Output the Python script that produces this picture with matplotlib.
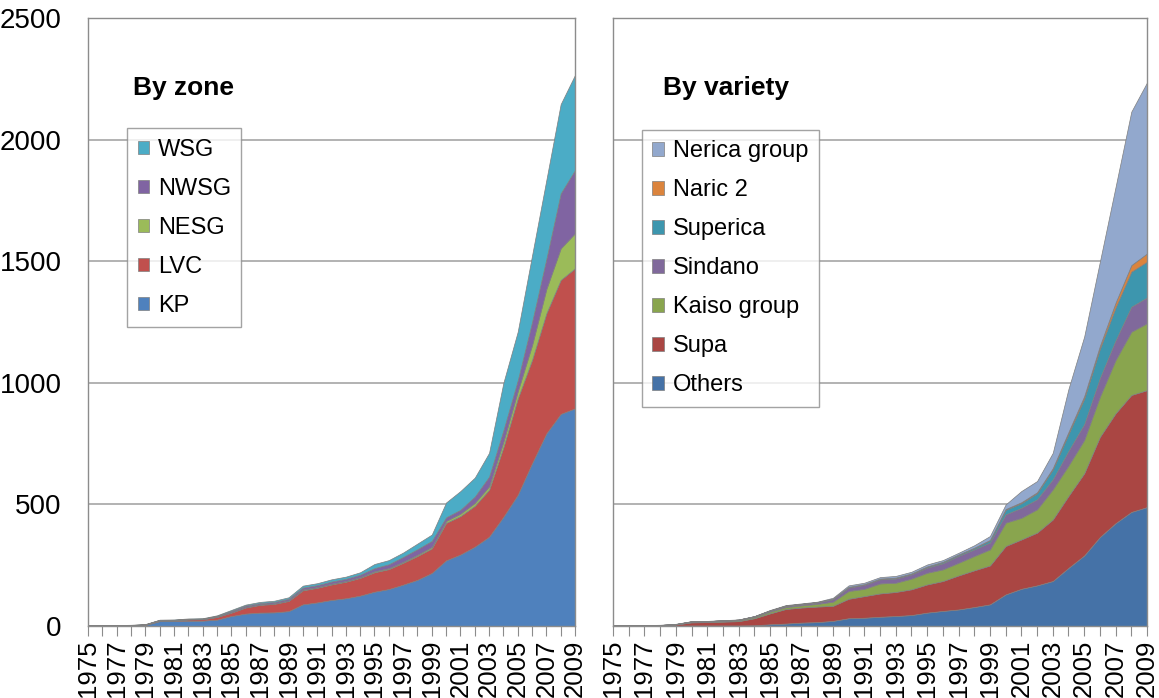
import matplotlib.pyplot as plt
import numpy as np

plt.rcParams['font.family'] = ['Liberation Sans', 'DejaVu Sans']

years = list(range(1975, 2010))

# By zone
kp = [1, 1, 2, 2, 4, 20, 20, 21, 22, 26, 41, 51, 55, 56, 61, 89, 97, 107, 114, 125,
      141, 152, 170, 190, 218, 270, 294, 326, 367, 449, 539, 669, 792, 872, 895]
lvc = [1, 1, 1, 1, 2, 3, 3, 6, 6, 11, 14, 25, 32, 35, 42, 58, 60, 64, 68, 73,
       80, 82, 90, 98, 101, 154, 158, 168, 193, 286, 396, 425, 494, 551, 576]
nesg = [0, 0, 0, 0, 0, 0.5, 0.5, 0.5, 0.5, 1, 2, 2, 2, 2, 2, 3, 3, 3, 3, 3,
        4, 4, 4, 5, 6, 8, 10, 12, 14, 23, 30, 61, 100, 130, 144]
nwsg = [0.5, 0.5, 0.5, 1, 1, 1.5, 1.5, 1.5, 1.5, 3, 5, 6, 5, 6, 7, 8, 8, 9, 9, 10,
        13, 16, 20, 23, 25, 15, 16, 26, 40, 47, 45, 95, 124, 226, 260]
wsg = [0.5, 0.5, 0.5, 1, 1, 1, 2, 2, 2, 3, 4, 4, 5, 5, 6, 8, 8, 9, 9, 10,
       17, 17, 18, 23, 26, 61, 77, 78, 98, 195, 200, 273, 324, 367, 391]
zone_labels = ['KP', 'LVC', 'NESG', 'NWSG', 'WSG']
zone_colors = ['#4F81BD', '#C0504D', '#9BBB59', '#8064A2', '#4BACC6']

# By variety
others = [0.5, 0.5, 0.5, 0.5, 1, 2, 2, 2, 2, 3, 7, 10, 14, 16, 21, 32, 34, 38, 41, 45,
          55, 62, 68, 78, 89, 130, 153, 167, 185, 239, 290, 366, 423, 469, 489]
supa = [1, 1, 1.5, 2.5, 5, 13, 14, 16, 18, 29, 45, 60, 62, 64, 62, 80, 89, 96, 99, 106,
        116, 123, 140, 151, 160, 199, 203, 217, 253, 296, 338, 412, 452, 481, 481]
kaiso = [0.5, 0.5, 0.5, 0.5, 1, 2, 2, 3, 4, 5, 7, 8, 9, 11, 17, 32, 30, 41, 38, 44,
         48, 48, 52, 59, 66, 96, 89, 96, 124, 125, 137, 165, 219, 260, 275]
sindano = [0.5, 0.5, 0.5, 0.5, 1, 2, 2, 2, 2, 3, 5, 5, 5, 6, 10, 14, 16, 17, 17, 17,
           21, 25, 28, 27, 28, 34, 41, 41, 41, 60, 65, 77, 81, 103, 106]
superica = [0, 0, 0, 0, 0, 0, 0, 0, 0, 0, 0, 0.5, 0.5, 0.5, 1, 2, 2, 2, 3, 3,
            4, 5, 5, 6, 9, 19, 19, 25, 41, 70, 105, 120, 135, 144, 147]
naric2 = [0, 0, 0, 0, 0, 0, 0, 0, 0, 0, 0, 0.5, 0.5, 0.5, 1, 1, 1, 1, 1, 1,
          1, 1, 1, 1, 2, 3, 4, 4, 5, 8, 10, 12, 20, 27, 34]
nerica = [0.5, 0.5, 1, 1, 1, 1, 1, 1, 1, 1, 2, 2, 2, 2, 4, 6, 6, 6, 7, 7,
          8, 7, 7, 10, 16, 19, 46, 46, 63, 177, 245, 346, 476, 631, 703]
variety_labels = ['Others', 'Supa', 'Kaiso group', 'Sindano', 'Superica', 'Naric 2', 'Nerica group']
variety_colors = ['#4572A7', '#AA4643', '#89A54E', '#80699B', '#3D96AE', '#DB843D', '#92A8CD']

fig = plt.figure(figsize=(11.59, 6.98), dpi=100)
ax1 = fig.add_axes([88 / 1159, 72 / 698, 487 / 1159, 608 / 698])
ax2 = fig.add_axes([613 / 1159, 72 / 698, 534 / 1159, 608 / 698])


def style_axes(ax, show_y):
    ax.set_xlim(1975, 2009)
    ax.set_ylim(0, 2500)
    ax.set_yticks([0, 500, 1000, 1500, 2000, 2500])
    ax.yaxis.grid(True, color='#a6a6a6', linewidth=1.2)
    ax.set_axisbelow(True)
    for sp in ax.spines.values():
        sp.set_color('#8c8c8c')
        sp.set_linewidth(1.0)
    ax.set_xticks(years)
    ax.set_xticklabels([str(y) if (y - 1975) % 2 == 0 else '' for y in years],
                       rotation=90, fontsize=18.5)
    ax.tick_params(axis='x', direction='out', length=7, color='#8c8c8c', pad=3)
    ax.tick_params(axis='y', length=0, labelsize=20, pad=19)
    if not show_y:
        ax.set_yticklabels([])


# left chart
ax1.stackplot(years, kp, lvc, nesg, nwsg, wsg, labels=zone_labels,
              colors=zone_colors, edgecolor='#7f7f7f', linewidth=0.5)
style_axes(ax1, True)
ax1.text(0.092, 0.885, 'By zone', transform=ax1.transAxes, fontsize=19,
         fontweight='bold', va='center', ha='left')
h, l = ax1.get_legend_handles_labels()
leg = ax1.legend(h[::-1], l[::-1], loc='upper left', bbox_to_anchor=(0.08, 0.819),
                 borderaxespad=0, fontsize=17, frameon=True, fancybox=False,
                 edgecolor='#8c8c8c', handlelength=0.5, handleheight=0.5,
                 handletextpad=0.35, labelspacing=0.72, borderpad=0.45)
leg.get_frame().set_linewidth(1.0)

# right chart
ax2.stackplot(years, others, supa, kaiso, sindano, superica, naric2, nerica,
              labels=variety_labels, colors=variety_colors,
              edgecolor='#7f7f7f', linewidth=0.5)
style_axes(ax2, False)
ax2.text(0.094, 0.885, 'By variety', transform=ax2.transAxes, fontsize=19,
         fontweight='bold', va='center', ha='left')
h, l = ax2.get_legend_handles_labels()
leg2 = ax2.legend(h[::-1], l[::-1], loc='upper left', bbox_to_anchor=(0.054, 0.816),
                  borderaxespad=0, fontsize=17, frameon=True, fancybox=False,
                  edgecolor='#8c8c8c', handlelength=0.5, handleheight=0.5,
                  handletextpad=0.35, labelspacing=0.72, borderpad=0.45)
leg2.get_frame().set_linewidth(1.0)

fig.savefig('out.png', dpi=100)
